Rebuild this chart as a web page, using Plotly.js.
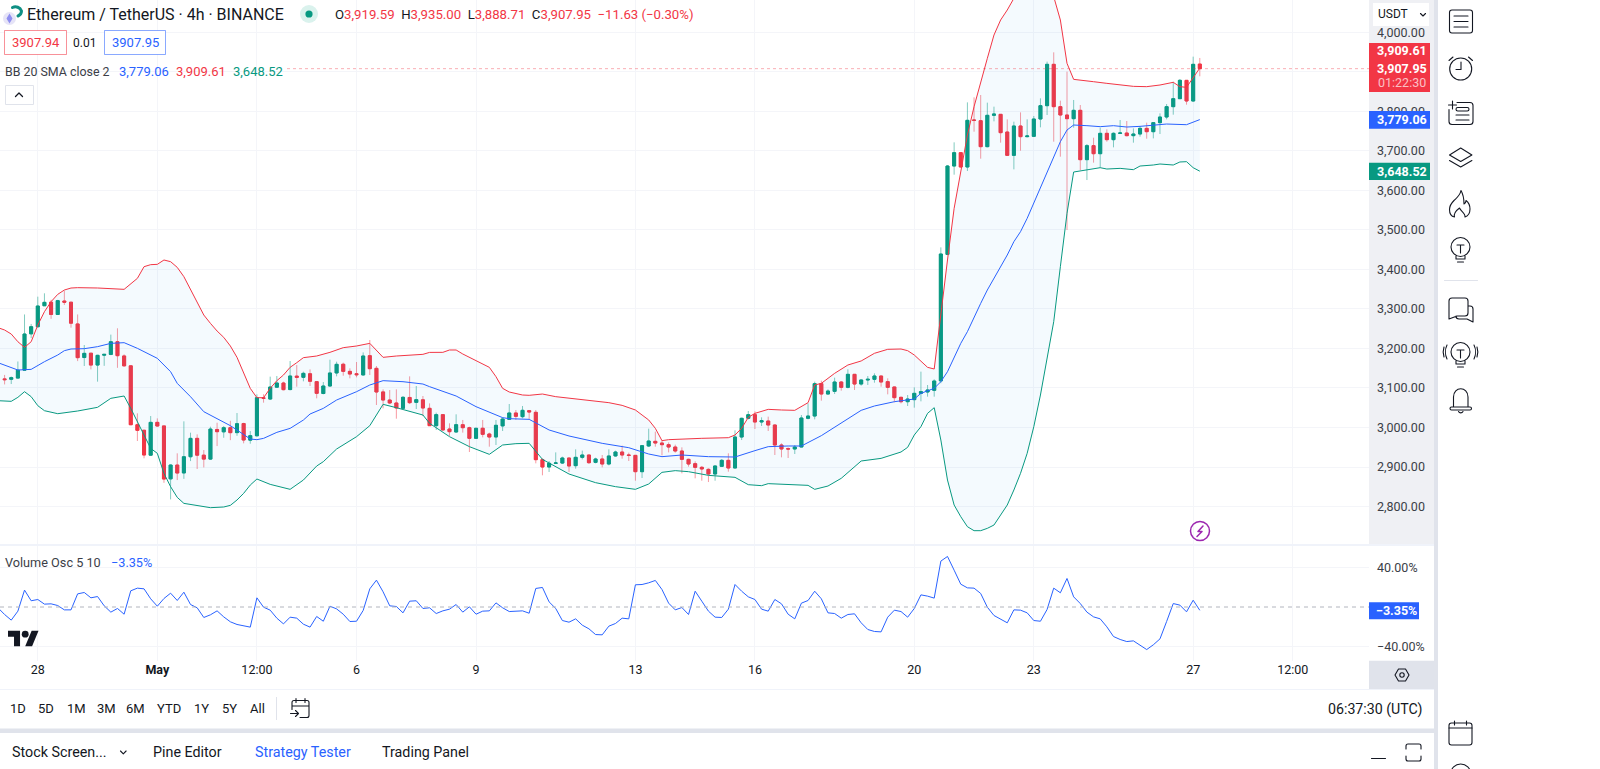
<!DOCTYPE html>
<html><head><meta charset="utf-8">
<script src="https://cdn.plot.ly/plotly-3.0.1.min.js"></script>
<style>
html,body{margin:0;padding:0;background:#fff;overflow:hidden}
#chart{position:absolute;left:0;top:0;width:1600px;height:769px}
#icons{position:absolute;left:0;top:0;width:1600px;height:769px;pointer-events:none}
</style></head><body>
<div id="chart"></div>
<svg id="icons" viewBox="0 0 1600 769" fill="none" stroke="#131722" stroke-width="1.1" stroke-linecap="round" stroke-linejoin="round">
  <!-- instrument logo -->
  <circle cx="9.5" cy="18.5" r="6.5" fill="#e6e4f7" stroke="none"/>
  <path d="M9.5 13.5l3 5-3 5-3-5z" fill="#8f8ff0" stroke="none"/>
  <path d="M12.5 7.5a6.5 6.5 0 0 1 9 3.5a5.5 5.5 0 0 1-3.5 5" stroke="#0f8f84" stroke-width="3"/>
  <!-- market open dot -->
  <circle cx="309" cy="14" r="9" fill="#daf2ed" stroke="none"/><circle cx="309" cy="14" r="3.6" fill="#089981" stroke="none"/>
  <!-- collapse chevron -->
  <path d="M15.5 96.5l3.5-3.5 3.5 3.5" stroke-width="1.3"/>
  <!-- USDT chevron -->
  <path d="M1420.5 13.5l2.5 2.5 2.5-2.5"/>
  <!-- lightning -->
  <circle cx="1200" cy="531" r="9.5" stroke="#9c27b0" stroke-width="1.5"/>
  <path d="M1203 526l-5 5.5h4l-5 5" stroke="#9c27b0" stroke-width="1.5"/>
  <!-- TV logo -->
  <g transform="translate(8 627.3) scale(.86)" fill="#131722" stroke="none"><path d="M14 22H7V11H0V4h14v18zM28 22h-8l7.5-18h8L28 22z"/><circle cx="20" cy="8" r="4"/></g>
  <!-- gear -->
  <path d="M1395 675l3.5-6h7l3.5 6-3.5 6h-7z"/><circle cx="1402" cy="675" r="2.2"/>
  <!-- date range calendar -->
  <path d="M292 702.5a2 2 0 0 1 2-2h13a2 2 0 0 1 2 2v13a2 2 0 0 1-2 2h-7M292 706h17M296 698.5v4M305 698.5v4M290.5 713.5h8M295.5 710.5l3 3-3 3M292 702.5v7"/>
  <!-- screener chevron -->
  <path d="M120.500 751l2.800 2.800 2.800-2.800"/>
  <!-- minimize / maximize -->
  <path d="M1371.5 758.5h14M1406 749v-3a2 2 0 0 1 2-2h11a2 2 0 0 1 2 2v3M1406 756v3a2 2 0 0 0 2 2h11a2 2 0 0 0 2-2v-3"/>
  <!-- sidebar -->
  <g>
    <rect x="1449.5" y="10" width="23" height="23" rx="2.5"/><path d="M1454 16h14M1454 21.5h14M1454 27h14"/>
    <circle cx="1460.7" cy="69" r="11"/><path d="M1461 62v7.5h-5M1449 60.500l4-3.500M1472.500 60.500l-4-3.500"/>
    <path d="M1457 102.500h13a3 3 0 0 1 3 3v16a3 3 0 0 1-3 3h-18a3 3 0 0 1-3-3v-12M1452.500 101v8M1448.500 105h8"/><rect x="1456" y="107.500" width="13" height="3.500" rx="1.700"/><path d="M1456 115h13M1456 120h13"/>
    <path d="M1449.500 155l11.200-7 11.200 7-11.200 6.500zM1449.500 160.500l11.200 6.500 11.200-6.500"/>
    <path d="M1461 190.500c-1 5-4 7-7 10-3 3-4.500 6-4.500 9 0 4 2 7 5 7.500-1-3 1-6 5-9 1 3 6 5 5.500 9 3-1 5-4 5-8 0-4-2-7-4-8.500 0 2-1 3-2 3.500 0-5-1-10-3-13.500z"/>
    <circle cx="1460.500" cy="247" r="9.500"/><path d="M1457 245h7M1460.500 245v8M1456 256v3h9v-3M1457.500 262h6"/>
    <path d="M1444.500 280.500h33" stroke="#e0e3eb"/>
    <path d="M1449 301a3 3 0 0 1 3-3h13a3 3 0 0 1 3 3v12a3 3 0 0 1-3 3h-8l-8 3zM1468 306h2a3 3 0 0 1 3 3v13l-6-3h-8a3 3 0 0 1-3-3"/>
    <circle cx="1460.500" cy="352" r="9.500"/><path d="M1457 350h7M1460.500 350v8M1456 361v3h9v-3M1457.500 367h6M1447 345c-2 4-2 10 0 14M1444 347c-1 3-1 7 0 10M1474 345c2 4 2 10 0 14M1477 347c1 3 1 7 0 10"/>
    <path d="M1453.500 407v-10c0-11 14.500-11 14.500 0v10M1451.500 407h18.500a1.500 1.500 0 0 1 0 3h-18.500a1.500 1.500 0 0 1 0-3zM1458.500 411.500a2.500 2.500 0 0 0 4.500 0"/>
    <rect x="1449" y="723" width="23" height="22" rx="2.500"/><path d="M1449 728h23M1454.500 721v4M1466.500 721v4"/>
    <circle cx="1460.700" cy="774" r="10"/>
  </g>
</svg>
<script>
const fontFamily = 'Roboto, "Noto Sans", sans-serif';
const upColor = '#089981', downColor = '#F23645', blue = '#2962FF', ink = '#131722';

// one 4h candle per entry, the first opens 2024-04-27 00:00 UTC
const openPrices = [3129,
3123,3122,3125,3145,3237,3255,3308,3317,3286,3320,
3317,3262,3177,3188,3158,3183,3185,3217,3181,3156,
3007,2993,2930,3013,3004,2870,2905,2885,2926,2972.5,
2930,2920,2995,2989,2999.5,2987,3010,2968,2979,3075,
3072,3102,3112.5,3096,3130,3127,3136,3116,3086,3105,
3138,3160,3142,3136,3133,3181.7,3149.7,3090,3069.5,3062,
3048.5,3076,3063.6,3070,3048.5,3004.6,3032.5,2996.2,2988.6,3007,
2999.5,2972.6,2998,2983.5,2976,3004,3020.6,3036.7,3027.4,3042.6,
3038.4,2918.6,2900,2909.3,2910,2922.8,2903.4,2924.5,2930.4,2911.8,
2920.3,2907.6,2928,2938,2930.4,2929.5,2888.2,2953.2,2965,2960.7,
2956.5,2950.6,2940.5,2919.4,2908.4,2899.2,2894.1,2882.3,2901.7,2916.9,
2897.5,2975.9,3023.2,3032.4,3013.9,3016.4,3006.3,2955.7,2946.4,2945.6,
2950.6,3023.2,3029,3110.9,3084.7,3091.5,3115.1,3101.6,3134.5,3110,
3120.2,3121.9,3130.3,3116,3102.5,3076.3,3065.3,3070.4,3086.4,3089.8,
3094,3118,3438,3661.6,3695.4,3659.1,3778,3776.3,3710.6,3789.9,
3792.4,3747.7,3688.6,3762.9,3735.9,3736.7,3780.6,3814.3,3918.9,3811.8,
3790.7,3781.4,3802.5,3677.7,3713.1,3692.8,3744.3,3728.3,3744.3,3745.1,
3738.4,3742.6,3756.9,3748.5,3771.3,3785.6,3811.8,3832,3878.4,3826.1,
3919.59];
const highPrices = [3131,
3133,3129,3167,3286,3262,3331,3339.5,3323,3323,3346,
3318,3286,3208.7,3188,3184,3186,3235,3251,3185,3157,
3035.8,2994,3029,3023,3004,2906.7,2934.6,3015.5,2986.9,2982.6,
2943,3002,3012,3003.7,3017,3036.6,3012,2991,3083.9,3084,
3128.6,3130.3,3115.9,3168.2,3158,3141.2,3147,3117.6,3115,3171.6,
3166.5,3164,3149.7,3165.7,3190,3221.4,3155.6,3096.5,3094.8,3096.5,
3079.7,3129.4,3105,3079.7,3061,3037.5,3034,3010.5,3033.3,3019,
3002,2999.5,3019,2986.9,3019,3025.7,3059.4,3044.3,3054.4,3044.3,
3044.3,2922,2915.2,2937,2926.2,2923.6,2944.7,2941.4,2931.2,2923.6,
2930.4,2944.7,2941.4,2954,2936.3,2930,2955.7,2997,2989.4,2968.3,
2962.4,2956.5,2949.8,2921.1,2914.4,2902.6,2896.6,2904.2,2920.3,2934.6,
2992.8,3024.9,3041.7,3040.9,3025.7,3027.4,3008,2959.9,2949.8,2955.7,
3031.6,3061,3116,3118.5,3096.6,3126.1,3117.6,3147.2,3135.4,3121.9,
3130.3,3137,3131.1,3124.4,3103.3,3078,3082.2,3101.6,3141.3,3107.5,
3121.9,3455.8,3664,3721.5,3697,3822.7,3835.4,3841.3,3821.9,3811.8,
3793,3779.7,3773.8,3797.4,3779.7,3788.2,3832.9,3925.7,3949.3,3827,
3900.4,3828.7,3816,3717.3,3733.3,3758.6,3754.4,3746.8,3778,3775.5,
3756.9,3762.9,3771.3,3773,3794.9,3818.5,3875,3881.8,3879.3,3938.3,
3935];
const lowPrices = [3122,
3109,3110,3124,3144,3226,3253,3308,3275,3284.6,3310,
3252.6,3168,3155.6,3147,3116,3156,3183,3151,3154,3006,
2965.8,2922,2928.7,3002,2860,2818,2867,2870,2915,2895,
2899,2918,2953,2974,2968,2979,2959.9,2959,2977.6,3062.8,
3069.5,3100.7,3094,3094,3103.3,3116.8,3105,3073.8,3083.9,3103,
3129.4,3131,3124.4,3126.9,3131,3132.8,3056.9,3048.5,3059.4,3022.3,
3046.8,3059.4,3046.8,3029,3003.8,2993.7,2993,2978.5,2986.9,2987,
2938,2970.9,2975,2951.5,2955.7,2991.1,3019,3019,3023.2,3021.5,
2909.3,2879,2887.4,2907.6,2907.6,2887.4,2895.8,2919.4,2907.6,2909.3,
2899.2,2904.2,2926.2,2921.1,2915.2,2865.4,2872.2,2950.6,2951.5,2929.5,
2937.1,2936.3,2884,2900.9,2871.4,2865.4,2862,2865.4,2900,2888.2,
2896.6,2968.3,3020.6,2996.2,3003.8,2991.1,2930.4,2924.5,2922.8,2932.9,
2949.8,3020.6,3020.6,3067.9,3083,3084.7,3093.2,3099.1,3094.9,3105.8,
3107.5,3113.4,3103.3,3083.9,3063.7,3061.1,3054.4,3050.2,3066.2,3078,
3078,3112,3436,3639.7,3657.4,3649,3748.5,3680.2,3708.9,3774.7,
3720.7,3687.8,3653.2,3700.4,3734.2,3735,3759.5,3790.7,3723.2,3685.3,
3499.7,3758.6,3651.5,3626.2,3670.1,3657.4,3723.2,3708.9,3743.5,3736.7,
3720.7,3735.9,3730.8,3731.6,3742.6,3779.7,3791.5,3831.2,3816.8,3824.4,
3888.71];
const closePrices = [3125,
3121,3126,3145,3236.5,3255,3307.4,3316.7,3286,3321,3317,
3264,3176.7,3187.6,3158,3182.6,3185,3217,3181.7,3156,3007,
2992.8,2930.4,3013,3003.7,2869.6,2905,2884.8,2926,2972.5,2930,
2920,2996,2989.4,2999.5,2986.9,3009.6,2968.3,2979.3,3075.4,3073.7,
3102.4,3112.5,3095.7,3130.3,3126.9,3137,3117,3086.4,3105,3137.9,
3159.8,3142,3135.3,3133.6,3180.9,3148.8,3089.8,3069.5,3062,3049.3,
3076.3,3062.8,3070.4,3049.3,3004.6,3032.5,2993.7,2989.4,3007.1,2999.5,
2972.6,2997.9,2982.7,2975.9,3005.5,3021.5,3036.7,3028.2,3043.4,3039.2,
2918.6,2900,2909.3,2910.2,2922.8,2902.6,2924.5,2930.4,2911,2920.3,
2907.6,2927.9,2938,2930.4,2929.5,2888.2,2954,2965.8,2960.7,2956.5,
2950.6,2940.5,2919.4,2907.6,2899.2,2895,2882.3,2902.6,2916.9,2897.5,
2975.9,3023.2,3032.4,3013.9,3017.3,3006.3,2955.7,2945.6,2945.6,2950.6,
3024,3029,3110.9,3084.7,3092.3,3115.1,3101.6,3134.5,3110,3120.2,
3121.9,3130.3,3115.1,3101.6,3075.5,3065.3,3072.1,3086.4,3090.7,3094.9,
3117.6,3439,3661.6,3695.4,3659.1,3777.2,3777.2,3710.6,3789.9,3793.2,
3746,3688.6,3762.9,3735.9,3737.6,3780.6,3814.3,3918.9,3811.8,3790.7,
3781.4,3802.5,3677.7,3713.1,3692.8,3744.3,3728.3,3744.3,3745.1,3738.4,
3742.6,3756.9,3748.5,3771.3,3785.6,3811.8,3832,3878.4,3826.1,3918.9,
3907.95];
const volumeOsc = [-0.8,
-7.6,-13.3,-4.2,17.1,6.3,7.6,2.9,3.2,1.5,-2.9,
-2.9,13.3,14.7,9.3,10.6,1.2,-5.2,-1.5,-7.3,16.4,
19.1,18.4,8.3,0.8,8.6,14.0,6.6,15.0,2.5,-0.8,
-10.6,-7.9,-3.9,-10.0,-15.0,-17.7,-19.1,-20.4,9.3,-0.2,
-3.2,-11.3,-17.1,-10.3,-11.3,-17.4,-20.4,-9.6,-14.4,0.8,
-1.9,-7.3,-14.7,-14.4,-3.5,18.4,27.2,15.4,1.2,0.5,
-5.9,5.9,6.3,-1.5,-0.8,-6.6,-3.9,-2.2,2.5,-5.2,
0.2,-7.3,-4.2,-3.9,4.2,-0.8,-4.6,-4.6,-3.9,-6.3,
18.8,19.8,5.2,-1.5,-13.7,-15.4,-12.0,-18.4,-22.1,-27.9,
-28.2,-19.4,-16.7,-11.3,-12.0,22.5,22.8,24.5,26.9,17.7,
3.9,-2.9,-0.5,-7.6,16.0,5.9,-4.2,-10.3,-10.6,-2.2,
22.8,16.0,10.3,7.6,-2.2,-4.2,7.6,3.2,-7.3,-12.0,
3.9,6.6,16.0,8.3,-5.9,-6.6,-11.3,-7.6,-6.9,-16.0,
-22.8,-24.8,-25.2,-10.3,-3.2,-4.6,-10.3,-1.5,12.3,11.0,
9.0,46.5,51.2,37.3,23.1,19.4,19.1,13.7,-0.2,-8.6,
-12.0,-16.0,-2.9,-3.2,-5.9,-13.7,-14.4,-2.5,19.1,14.4,
28.9,10.3,3.5,-5.2,-10.0,-12.0,-20.1,-29.9,-32.9,-35.0,
-34.3,-39.0,-43.1,-38.3,-32.3,-14.7,3.5,1.9,-4.9,6.9,
-3.35];

// Bollinger bands, read at the visible vertices: bar number (0 = 2024-04-27 04:00) and price
const bbUpperBars = [-1,0,1,2,3,4,5,6,7,8,9,10,11,14,18,20,21,22,23,24,25,26,27,28,29,30,31,32,33,34,35,36,37,38,39,40,41,42,43,44,45,47,49,51,53,55,56,57,59,61,63,64,65,66,67,68,69,71,73,74,75,76,78,79,80,81,83,86,88,91,93,95,96,97,98,99,100,102,105,109,110,111,112,113,115,117,119,121,122,123,125,127,129,131,133,135,136,137,138,139,140,141,142,143,144,145,146,147,148,149,150,151,152,153,154,155,156,157,158,159,160,161,162,164,166,168,170,172,174,176,177,178,179,180];
const bbUpper = [3252.6,3246.7,3236.5,3217,3202.8,3217,3259.3,3293,3318.4,3336.9,3347.9,3352.9,3353.8,3353,3349.6,3377.4,3406.9,3412,3412.8,3423.8,3419.6,3405.2,3381.6,3347.9,3314.1,3284.6,3263.5,3244.1,3228.1,3206.2,3177.5,3137,3099,3075.4,3075.4,3099,3118.4,3132.8,3152.2,3164,3176.7,3180.9,3190.2,3202,3206.2,3212.9,3196,3177.5,3180.9,3183.4,3185.1,3190,3189.3,3190.2,3196.1,3196.1,3186,3168.3,3152.2,3128.6,3099.1,3089.8,3082.2,3081.4,3082.2,3084.7,3078,3073,3067.9,3062.8,3056,3044.3,3031.6,3019,2997.9,2966.7,2969.2,2970.9,2972.6,2974.2,2981,2997.9,3025.7,3035.8,3045.9,3044.3,3043.4,3062.8,3107.5,3111.7,3137,3158.1,3168.3,3187.7,3197.8,3198.6,3194.4,3183.4,3168.2,3152.2,3148,3293,3423.8,3554.5,3651.5,3740.1,3811.8,3875,3934.1,3993.1,4031.1,4056.4,4085.9,4107,4123.9,4128.1,4128.1,4119.7,4090.1,4031.1,3921.4,3880.9,3879.3,3875,3870.8,3866.6,3863.2,3862.4,3866.6,3873.4,3862.4,3860.7,3886,3909.61];
const bbBasisBars = [-1,0,2,4,6,8,9,10,12,14,16,18,20,23,25,26,28,30,32,34,35,37,38,39,41,43,45,46,48,50,53,55,57,60,63,64,68,71,75,76,79,82,85,90,94,97,99,102,106,110,113,115,118,120,123,127,129,131,134,137,138,140,141,142,143,144,145,146,147,148,149,150,151,152,153,154,155,156,157,158,159,160,161,163,165,167,169,171,173,175,178,179,180];
const bbBasis = [3164,3158.1,3145.4,3147.1,3166.5,3183.4,3194.4,3198.6,3199.4,3204.5,3212.9,3214.6,3200.3,3175,3141.2,3111.7,3077.9,3040,3023.1,3004.6,2993.6,2970.8,2969.2,2972.5,2987.7,2997.8,3018.9,3034.1,3048.4,3069.5,3090.6,3107.5,3118.5,3115.9,3110,3103.3,3079.7,3052.7,3024.9,3022.3,3020.6,2993.7,2978.5,2959.9,2948.9,2932.9,2926.2,2930.4,2926.2,2925.3,2941.4,2951.5,2953.2,2953.2,2979.3,3023.2,3043.4,3054.4,3065.3,3072.1,3086.4,3099.1,3115.9,3141.2,3179.2,3212.9,3242.5,3280.4,3314.1,3347.9,3377.4,3407,3436.4,3470.2,3495.5,3529.2,3567.2,3605.1,3643.1,3685.2,3723.2,3752.7,3765.4,3763.7,3761.2,3763.7,3760.3,3762,3764.5,3767.9,3766.2,3773,3779.06];
const bbLowerBars = [-1,0,1,2,3,4,5,6,8,11,14,16,18,19,20,21,22,23,24,25,26,27,29,31,33,34,35,36,37,38,40,43,45,47,48,50,53,55,56,57,59,61,63,64,67,70,73,75,77,79,81,85,89,92,95,97,99,101,103,106,110,112,114,115,119,121,122,124,126,129,132,135,136,137,138,139,140,141,142,143,144,145,146,147,148,149,150,151,152,153,154,155,156,157,158,159,160,161,163,165,166,168,170,171,173,174,176,177,178,179,180];
const bbLower = [3067.8,3067,3066.2,3076.3,3090.6,3078,3055.2,3042.5,3034.9,3041.7,3051,3073.8,3079.7,3048.4,3014.7,2981,2947.2,2934.6,2884,2850.2,2823.2,2808,2803,2797.1,2798.8,2803,2816.5,2833.3,2854.4,2869.6,2856.1,2843.5,2867.1,2902.5,2913.5,2945.5,2976.7,3004.6,3031.6,3058.6,3050.1,3041.7,3031.6,3010.5,2976.8,2951.5,2932.1,2955.7,2959.1,2959.9,2919.4,2882.3,2860.4,2850.3,2843.5,2857,2886.5,2890.8,2888.2,2878.9,2873.9,2855.3,2852.8,2857.9,2855.3,2853.6,2843.5,2851.9,2871.4,2915.2,2921.9,2938,2949.8,2981,3002.1,3035.8,3050.1,2968.3,2867.1,2803.8,2774.3,2749,2738.9,2738.9,2744.8,2753.2,2778.5,2803.8,2841.8,2884,2934.6,3002.1,3082.2,3170.8,3267.8,3406.9,3541.9,3646.4,3651.5,3657.4,3654,3655.7,3652.4,3661.6,3664.2,3666.7,3664.2,3671.8,3672.6,3657.4,3648.52];

const priceTicks = [2800,2900,3000,3100,3200,3300,3400,3500,3600,3700,3800,3900,4000];
const priceTickText = ['2,800.00','2,900.00','3,000.00','3,100.00','3,200.00','3,300.00','3,400.00','3,500.00','3,600.00','3,700.00','3,800.00','','4,000.00'];
const oscTicks = [-40,40];
const oscTickText = ['\u221240.00%','40.00%'];
const timeTicks = ['2024-04-28','2024-05-01','2024-05-03 12:00','2024-05-06','2024-05-09','2024-05-13','2024-05-16','2024-05-20','2024-05-23','2024-05-27','2024-05-29 12:00'];
const timeTickText = ['28','<b>May</b>','12:00','6','9','13','16','20','23','27','12:00'];

const barMs = 4*3600*1000, bar0 = Date.UTC(2024,3,27,4);
const iso = k => new Date(bar0 + k*barMs).toISOString();
const candleTimes = openPrices.map((_,i) => iso(i-1));
const times = bars => bars.map(iso);

const W = 1600, H = 769, px = x => x/W, py = y => 1-y/H;
const axisLeft = 1369, priceBottom = 544, oscTop = 546, oscBottom = 660.7;
const gridColor = '#f4f5f9';

const traces = [
  {type:'candlestick', x:candleTimes, open:openPrices, high:highPrices, low:lowPrices, close:closePrices, whiskerwidth:0,
   increasing:{line:{color:'rgba(8,153,129,0.5)',width:1},fillcolor:'rgba(8,153,129,0.5)'},
   decreasing:{line:{color:'rgba(242,54,69,0.5)',width:1},fillcolor:'rgba(242,54,69,0.5)'}, showlegend:false},
  {type:'scatter', mode:'lines', x:times(bbLowerBars), y:bbLower, line:{color:upColor,width:1}, showlegend:false},
  {type:'scatter', mode:'lines', x:times(bbUpperBars), y:bbUpper, line:{color:downColor,width:1}, fill:'tonexty', fillcolor:'rgba(33,150,243,0.05)', showlegend:false},
  {type:'candlestick', x:candleTimes, open:openPrices, close:closePrices,
   high:openPrices.map((o,i)=>Math.max(o,closePrices[i])), low:openPrices.map((o,i)=>Math.min(o,closePrices[i])), whiskerwidth:0,
   increasing:{line:{color:upColor,width:1},fillcolor:upColor}, decreasing:{line:{color:downColor,width:1},fillcolor:downColor}, showlegend:false},
  {type:'scatter', mode:'lines', x:times(bbBasisBars), y:bbBasis, line:{color:blue,width:1}, showlegend:false},
  {type:'scatter', mode:'lines', x:candleTimes, y:volumeOsc, yaxis:'y2', line:{color:blue,width:1}, showlegend:false}
];

function rect(x0,y0,x1,y1,fill,layer,line){return {type:'rect',xref:'paper',yref:'paper',x0:px(x0),x1:px(x1),y0:py(y0),y1:py(y1),fillcolor:fill,layer:layer||'above',line:line||{width:0}};}
function txt(x,y,text,o){o=o||{};return {xref:'paper',yref:'paper',x:px(x),y:py(y),text:text,showarrow:false,xanchor:o.a||'left',yanchor:'middle',borderpad:0,
  font:{family:fontFamily,size:o.s||13,color:o.c||ink}};}
const red=downColor;
const span=(c,t)=>`<span style="color:${c}">${t}</span>`;

const shapes = [
  rect(axisLeft,0,1434,priceBottom,'#eff0f4','below'),
  rect(0,priceBottom,1434,oscTop,'#f0f3fa'),
  rect(axisLeft,oscBottom,1434,689,'#e0e3eb'),
  rect(0,689,1434,690,'#f0f3fa'),
  rect(0,728.5,1434,733,'#e0e3eb'),
  rect(1434,0,1438,769,'#e0e3eb'),
  rect(1373,3,1429,26,'#ffffff'),
  // current price line and oscillator zero line
  {type:'line',xref:'paper',yref:'y',x0:px(287),x1:px(axisLeft),y0:3907.95,y1:3907.95,layer:'above',line:{color:'rgba(242,54,69,0.4)',width:1,dash:'dot'}},
  {type:'line',xref:'paper',yref:'y2',x0:0,x1:px(axisLeft),y0:0,y1:0,layer:'above',line:{color:'#b2b5be',width:1,dash:'4px,4px'}},
  // price tags
  rect(axisLeft,43,1430,92,downColor),
  rect(axisLeft,111,1430,128.7,blue),
  rect(axisLeft,162.7,1430,180,upColor),
  rect(axisLeft,602.3,1419,619.3,blue),
  // header buttons
  {type:'rect',xref:'paper',yref:'paper',x0:px(4.5),x1:px(66.5),y0:py(30.5),y1:py(54.5),fillcolor:'#fff',layer:'above',line:{color:'rgba(242,54,69,0.55)',width:1}},
  {type:'rect',xref:'paper',yref:'paper',x0:px(104.5),x1:px(165.5),y0:py(30.5),y1:py(54.5),fillcolor:'#fff',layer:'above',line:{color:'rgba(41,98,255,0.55)',width:1}},
  {type:'rect',xref:'paper',yref:'paper',x0:px(5.5),x1:px(33.5),y0:py(85.5),y1:py(104.5),fillcolor:'#fff',layer:'above',line:{color:'#e0e3eb',width:1}},
  rect(276,697,277,720,'#e0e3eb')
];

const annotations = [
  txt(26,14.5,'Ethereum / TetherUS · 4h · BINANCE',{s:16}),
  txt(333.5,14.5,`O${span(red,'3,919.59')}  H${span(red,'3,935.00')}  L${span(red,'3,888.71')}  C${span(red,'3,907.95')}  ${span(red,'\u221211.63 (\u22120.30%)')}`,{s:13.2}),
  txt(35.5,42.5,'3907.94',{a:'center',c:red}),
  txt(84.5,42.5,'0.01',{a:'center',s:12}),
  txt(135,42.5,'3907.95',{a:'center',c:blue}),
  txt(4,71.5,'BB 20 SMA close 2',{s:12.4,c:'#3b3e47'}),
  txt(118,71.5,'3,779.06',{c:blue}),
  txt(175,71.5,'3,909.61',{c:red}),
  txt(232,71.5,'3,648.52',{c:upColor}),
  txt(4,562,'Volume Osc 5 10',{s:12.7,c:'#3b3e47'}),
  txt(110,562,'\u22123.35%',{s:12.7,c:blue}),
  txt(1376.5,14.5,'USDT',{s:12}),
  txt(1402,51,'<b>3,909.61</b>',{a:'center',c:'#fff',s:12.5}),
  txt(1402,68.5,'<b>3,907.95</b>',{a:'center',c:'#fff',s:12.5}),
  txt(1402,82.5,'01:22:30',{a:'center',c:'rgba(255,255,255,0.7)',s:12.5}),
  txt(1402,119.7,'<b>3,779.06</b>',{a:'center',c:'#fff',s:12.5}),
  txt(1402,171.3,'<b>3,648.52</b>',{a:'center',c:'#fff',s:12.5}),
  txt(1396.5,610.8,'<b>\u22123.35%</b>',{a:'center',c:'#fff',s:12.5}),
  txt(18,708,'1D',{a:'center'}),txt(46,708,'5D',{a:'center'}),txt(76,708,'1M',{a:'center'}),txt(106,708,'3M',{a:'center'}),
  txt(135,708,'6M',{a:'center'}),txt(169,708,'YTD',{a:'center'}),txt(201.5,708,'1Y',{a:'center'}),txt(229,708,'5Y',{a:'center'}),txt(257,708,'All',{a:'center'}),
  txt(1424,709,'06:37:30 (UTC)',{a:'right',s:14.2}),
  txt(11,752,'Stock Screen...',{s:14.3}),
  txt(187,752,'Pine Editor',{a:'center',s:14.3}),
  txt(302.5,752,'Strategy Tester',{a:'center',s:14.3,c:blue}),
  txt(425.5,752,'Trading Panel',{a:'center',s:14.3})
];

const layout = {
  width:W, height:H, margin:{l:0,r:0,t:0,b:0}, paper_bgcolor:'#fff', plot_bgcolor:'#fff',
  font:{family:fontFamily,size:12.5,color:ink}, showlegend:false, hovermode:false, dragmode:false, boxgap:0.35,
  xaxis:{type:'date',domain:[0,px(axisLeft)],anchor:'y2',
    range:[new Date(bar0-0.693*barMs).toISOString(),new Date(bar0+205.48*barMs).toISOString()],
    rangeslider:{visible:false},tickmode:'array',tickvals:timeTicks,ticktext:timeTickText,ticks:'',ticklen:0,
    showgrid:true,gridcolor:gridColor,gridwidth:1,showline:false,zeroline:false,tickfont:{family:fontFamily,size:12.5,color:ink}},
  yaxis:{domain:[py(priceBottom),1],anchor:'x',side:'right',range:[2705.2,4081.7],tickmode:'array',tickvals:priceTicks,ticktext:priceTickText,
    showgrid:true,gridcolor:gridColor,gridwidth:1,zeroline:false,showline:false,ticks:'',ticklen:0,ticklabelstandoff:7,tickfont:{family:fontFamily,size:12.5,color:'#3b3e47'}},
  yaxis2:{domain:[py(oscBottom),py(oscTop)],anchor:'x',side:'right',range:[-54.4,61.8],tickmode:'array',tickvals:oscTicks,ticktext:oscTickText,
    showgrid:true,gridcolor:gridColor,gridwidth:1,zeroline:false,showline:false,ticks:'',ticklen:0,ticklabelstandoff:7,tickfont:{family:fontFamily,size:12.5,color:'#3b3e47'}},
  shapes:shapes, annotations:annotations
};
Plotly.newPlot('chart',traces,layout,{staticPlot:true,displayModeBar:false,responsive:false});
</script>
</body></html>
